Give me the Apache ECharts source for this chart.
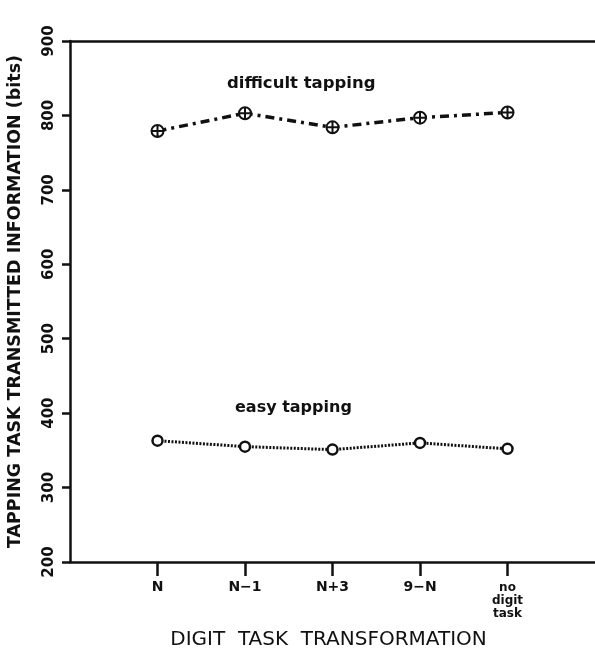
<!DOCTYPE html>
<html>
<head>
<meta charset="utf-8">
<script src="https://cdn.jsdelivr.net/npm/echarts@6/dist/echarts.min.js"></script>
<style>
  html, body { margin: 0; padding: 0; background: #fff; }
  #chart { width: 595px; height: 652px; }
</style>
</head>
<body>
<div id="chart"></div>
<script>
// data
var categories = ['N', 'N\u22121', 'N+3', '9\u2212N', 'no\ndigit\ntask'];
var catPos = [1, 2, 3, 4, 5];
var difficult = [779, 803, 784, 797, 804];
var easy = [363, 355, 351, 360, 352];
var yTicks = [200, 300, 400, 500, 600, 700, 800, 900];

var font = 'DejaVu Sans';
var ink = '#111';

function pairs(xs, ys) {
    var out = [];
    for (var i = 0; i < xs.length; i++) out.push([xs[i], ys[i]]);
    return out;
}

var chart = echarts.init(document.getElementById('chart'));
var option = {
    backgroundColor: '#fff',
    animation: false,
    grid: { left: 70, right: 0, top: 41, bottom: 90, containLabel: false, outerBoundsMode: 'none' },
    xAxis: [
        {
            type: 'value',
            min: 0,
            max: 6,
            splitLine: { show: false },
            axisLine: { show: true, lineStyle: { color: ink, width: 2.5 } },
            axisTick: {
                show: true, inside: false, length: 14,
                customValues: catPos,
                lineStyle: { color: ink, width: 2.5 }
            },
            axisLabel: {
                customValues: catPos,
                margin: 19,
                color: ink,
                fontFamily: font,
                fontWeight: 'bold',
                fontSize: 14,
                lineHeight: 13,
                formatter: function (v) {
                    var i = catPos.indexOf(v);
                    if (i < 0) return '';
                    if (categories[i].indexOf('\n') >= 0) return '{s|' + categories[i].split('\n').join('}\n{s|') + '}';
                    return categories[i];
                },
                rich: { s: { fontSize: 12, fontWeight: 'bold', fontFamily: font, lineHeight: 13, color: ink } }
            },
            name: 'DIGIT  TASK  TRANSFORMATION',
            nameLocation: 'middle',
            nameGap: 68,
            nameTextStyle: { color: ink, fontFamily: font, fontSize: 20, fontWeight: 'normal', padding: [0, 8, 0, 0] }
        },
        {
            type: 'value',
            position: 'top',
            min: 0,
            max: 6,
            splitLine: { show: false },
            axisLine: { show: true, lineStyle: { color: ink, width: 2.5 } },
            axisTick: { show: false },
            axisLabel: { show: false }
        }
    ],
    yAxis: {
        type: 'value',
        min: 200,
        max: 900,
        interval: 100,
        splitLine: { show: false },
        axisLine: { show: true, lineStyle: { color: ink, width: 2.5 } },
        axisTick: { show: true, inside: false, length: 8, lineStyle: { color: ink, width: 2.5 } },
        axisLabel: {
            rotate: 90,
            margin: 13,
            color: ink,
            fontFamily: font,
            fontWeight: 'bold',
            fontSize: 15,
            formatter: function (v) { return yTicks.indexOf(v) >= 0 ? String(v) : ''; }
        },
        name: 'TAPPING TASK TRANSMITTED INFORMATION (bits)',
        nameLocation: 'middle',
        nameRotate: 90,
        nameGap: 46,
        nameTextStyle: { color: ink, fontFamily: font, fontSize: 17.5, fontWeight: 'bold' }
    },
    graphic: [
        {
            type: 'text', left: 227, top: 75,
            style: { text: 'difficult tapping', fill: ink, font: 'bold 16.5px "DejaVu Sans"' }
        },
        {
            type: 'text', left: 235, top: 400,
            style: { text: 'easy tapping', fill: ink, font: 'bold 16px "DejaVu Sans"' }
        }
    ],
    series: [
        {
            name: 'difficult tapping',
            type: 'line',
            data: pairs(catPos, difficult),
            symbol: 'path://M0,-10A10,10 0 1,1 0,10A10,10 0 1,1 0,-10ZM-10,0L10,0M0,-10L0,10',
            symbolSize: 12,
            symbolKeepAspect: true,
            itemStyle: { color: '#fff', borderColor: ink, borderWidth: 2 },
            lineStyle: { color: ink, width: 3.5, type: [9, 5, 3, 5] },
            z: 3
        },
        {
            name: 'easy tapping',
            type: 'line',
            data: pairs(catPos, easy),
            symbol: 'circle',
            symbolSize: 10,
            itemStyle: { color: '#fff', borderColor: ink, borderWidth: 2.5 },
            lineStyle: { color: ink, width: 3, type: [2, 1.5] },
            z: 3
        }
    ]
};
chart.setOption(option);
</script>
</body>
</html>
